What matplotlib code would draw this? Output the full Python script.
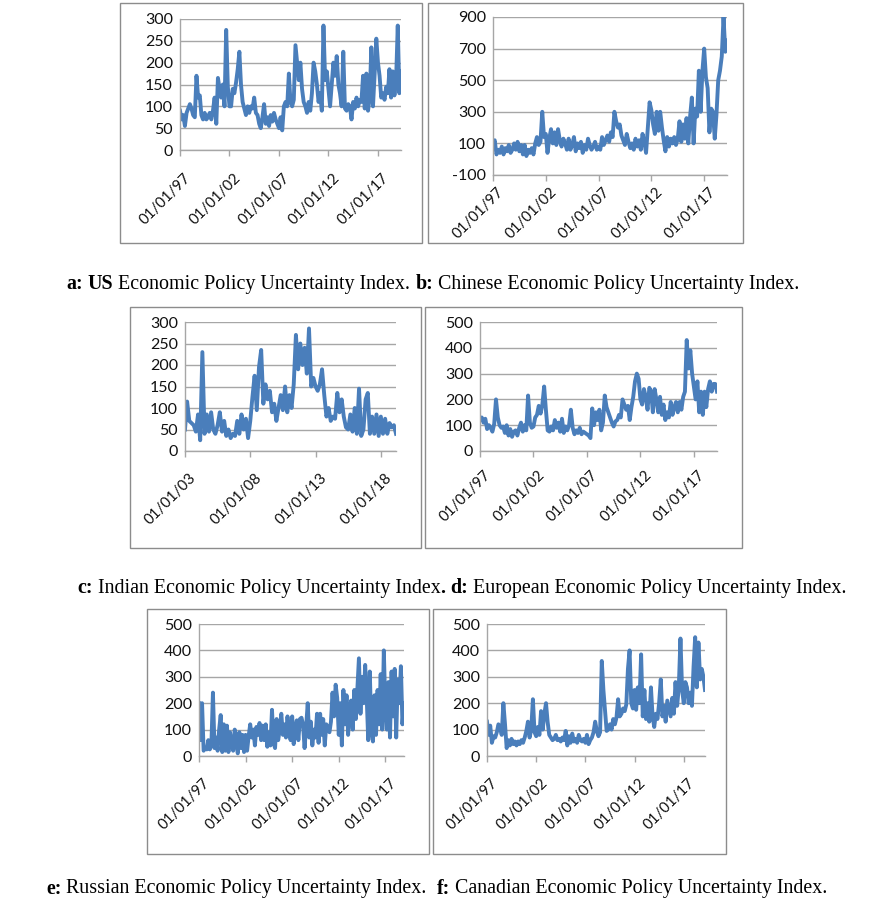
import pandas as pd
import matplotlib
matplotlib.use("Agg")
import matplotlib.pyplot as plt
import matplotlib.dates as mdates
from matplotlib.patches import Rectangle
from matplotlib.transforms import ScaledTranslation

plt.rcParams["axes.unicode_minus"] = False

# -----------------------------
# DATA (bimonthly readings, 6 per year)
# -----------------------------
us_vals = [
    90, 70, 80, 55, 85, 95,        # 1997
    105, 95, 80, 75, 170, 120,     # 1998
    125, 80, 70, 85, 70, 75,       # 1999
    85, 70, 90, 120, 60, 165,      # 2000
    140, 120, 150, 100, 275, 145,  # 2001
    100, 100, 140, 130, 155, 185,  # 2002
    225, 150, 110, 95, 80, 100,    # 2003
    85, 100, 95, 120, 85, 80,      # 2004
    60, 50, 75, 105, 60, 75,       # 2005
    55, 80, 65, 85, 70, 60,        # 2006
    50, 75, 45, 100, 110, 100,     # 2007
    175, 110, 100, 115, 240, 200,  # 2008
    160, 200, 140, 110, 100, 85,   # 2009
    110, 90, 130, 200, 180, 150,   # 2010
    110, 130, 90, 285, 160, 180,   # 2011
    140, 100, 150, 200, 170, 215,  # 2012
    150, 130, 100, 225, 95, 90,    # 2013
    105, 100, 70, 110, 95, 120,    # 2014
    100, 115, 110, 170, 95, 175,   # 2015
    90, 120, 235, 100, 175, 255,   # 2016
    200, 170, 120, 130, 115, 145,  # 2017
    130, 185, 120, 180, 125, 160,  # 2018
    285, 130, 180,                 # 2019
]

cn_vals = [
    100, 120, 30, 60, 40, 80,      # 1997
    30, 70, 50, 90, 40, 60,        # 1998
    100, 60, 110, 50, 90, 30,      # 1999
    90, 20, 60, 40, 70, 30,        # 2000
    100, 140, 90, 110, 300, 140,   # 2001
    160, 40, 130, 190, 100, 170,   # 2002
    90, 190, 120, 80, 130, 100,    # 2003
    60, 130, 60, 90, 140, 50,      # 2004
    100, 70, 110, 40, 90, 60,      # 2005
    130, 90, 60, 80, 110, 60,      # 2006
    80, 60, 140, 90, 120, 150,     # 2007
    110, 170, 140, 300, 240, 200,  # 2008
    220, 150, 120, 90, 160, 110,   # 2009
    70, 100, 60, 130, 80, 120,     # 2010
    60, 160, 110, 40, 200, 360,    # 2011
    310, 220, 160, 300, 180, 300,  # 2012
    200, 120, 50, 140, 80, 130,    # 2013
    100, 140, 90, 130, 240, 110,   # 2014
    220, 130, 260, 100, 270, 390,  # 2015
    100, 320, 270, 560, 300, 560,  # 2016
    700, 520, 450, 170, 320, 300,  # 2017
    130, 280, 500, 560, 650, 900,  # 2018
    680, 750,                      # 2019
]

in_vals = [
    50, 115, 70, 65, 60, 45,       # 2003
    85, 25, 230, 40, 85, 45,       # 2004
    90, 50, 40, 60, 90, 45,        # 2005
    70, 35, 50, 30, 40, 35,        # 2006
    70, 40, 85, 50, 75, 30,        # 2007
    70, 125, 175, 95, 195, 235,    # 2008
    110, 155, 120, 140, 90, 110,   # 2009
    70, 100, 130, 95, 150, 90,     # 2010
    130, 100, 155, 270, 190, 250,  # 2011
    200, 240, 180, 285, 150, 170,  # 2012
    150, 140, 155, 190, 130, 80,   # 2013
    100, 70, 80, 75, 135, 90,      # 2014
    120, 80, 55, 50, 85, 45,       # 2015
    100, 40, 145, 35, 50, 120,     # 2016
    135, 40, 80, 40, 85, 35,       # 2017
    80, 40, 75, 40, 65, 55,        # 2018
    60, 40,                        # 2019
]

eu_vals = [
    120, 130, 110, 125, 85, 100,   # 1997
    90, 75, 105, 200, 130, 100,    # 1998
    90, 95, 70, 100, 60, 85,       # 1999
    55, 75, 80, 60, 90, 110,       # 2000
    75, 100, 80, 215, 110, 90,     # 2001
    95, 130, 140, 175, 145, 180,   # 2002
    250, 160, 80, 75, 95, 80,      # 2003
    120, 90, 110, 75, 125, 70,     # 2004
    95, 80, 100, 160, 90, 65,      # 2005
    80, 70, 90, 65, 75, 70,        # 2006
    65, 60, 50, 165, 100, 150,     # 2007
    120, 160, 80, 110, 215, 170,   # 2008
    150, 130, 110, 95, 115, 120,   # 2009
    140, 130, 200, 180, 160, 175,  # 2010
    120, 170, 210, 270, 300, 280,  # 2011
    200, 180, 240, 210, 160, 245,  # 2012
    230, 150, 240, 200, 150, 210,  # 2013
    140, 180, 120, 150, 130, 190,  # 2014
    140, 170, 190, 150, 190, 160,  # 2015
    210, 230, 430, 320, 390, 300,  # 2016
    250, 200, 270, 150, 230, 140,  # 2017
    230, 170, 240, 270, 230, 260,  # 2018
    260, 230,                      # 2019
]

ru_vals = [
    200, 60, 200, 20, 30, 25,      # 1997
    60, 25, 40, 240, 30, 70,       # 1998
    20, 100, 155, 15, 120, 20,     # 1999
    115, 15, 90, 50, 20, 100,      # 2000
    50, 10, 90, 30, 80, 15,        # 2001
    80, 20, 75, 120, 70, 100,      # 2002
    40, 110, 80, 125, 60, 115,     # 2003
    60, 120, 35, 90, 40, 175,      # 2004
    50, 30, 140, 60, 100, 160,     # 2005
    80, 120, 70, 150, 90, 60,      # 2006
    150, 45, 100, 135, 60, 140,    # 2007
    145, 120, 30, 110, 200, 70,    # 2008
    130, 40, 100, 70, 160, 50,     # 2009
    160, 80, 140, 40, 120, 100,    # 2010
    90, 130, 240, 150, 270, 220,   # 2011
    80, 200, 40, 250, 120, 230,    # 2012
    80, 180, 210, 100, 250, 140,   # 2013
    260, 370, 160, 300, 200, 345,  # 2014
    220, 60, 320, 100, 55, 230,    # 2015
    80, 250, 120, 310, 100, 400,   # 2016
    180, 100, 280, 70, 320, 150,   # 2017
    330, 70, 290, 200, 340, 120,   # 2018
    200,                           # 2019
]

ca_vals = [
    130, 80, 115, 50, 75, 70,      # 1997
    90, 120, 110, 80, 200, 120,    # 1998
    30, 60, 40, 65, 45, 55,        # 1999
    40, 55, 45, 60, 50, 70,        # 2000
    95, 130, 70, 100, 215, 90,     # 2001
    75, 110, 80, 170, 100, 160,    # 2002
    200, 130, 80, 70, 60, 65,      # 2003
    80, 60, 65, 55, 70, 60,        # 2004
    95, 40, 75, 50, 85, 55,        # 2005
    65, 50, 80, 60, 55, 65,        # 2006
    50, 80, 45, 60, 70, 90,        # 2007
    130, 95, 75, 90, 360, 250,     # 2008
    170, 95, 100, 120, 100, 140,   # 2009
    120, 145, 215, 150, 160, 180,  # 2010
    170, 195, 330, 400, 200, 180,  # 2011
    250, 175, 260, 200, 385, 150,  # 2012
    250, 140, 200, 130, 260, 150,  # 2013
    110, 160, 140, 200, 290, 150,  # 2014
    190, 130, 210, 180, 150, 220,  # 2015
    160, 280, 190, 260, 445, 250,  # 2016
    200, 280, 260, 200, 240, 190,  # 2017
    340, 450, 260, 430, 290, 330,  # 2018
    300, 250,                      # 2019
]

# -----------------------------
# LAYOUT (pixels in a 886x907 image)
# -----------------------------
W, H = 886, 907
BLUE = "#4a7ebb"
GRID = "#a6a6a6"

# name, values, start, yticks, plot area (x0, y0, x1, y1), panel box (x0, y0, x1, y1), x label pad
panels = [
    ("a", us_vals, "1997-01-01", [0, 50, 100, 150, 200, 250, 300], (180, 19, 401, 150), (120, 3, 422, 243), 11),
    ("b", cn_vals, "1997-01-01", [-100, 100, 300, 500, 700, 900], (493, 17, 727, 175), (428, 3, 743, 243), 3),
    ("c", in_vals, "2003-01-01", [0, 50, 100, 150, 200, 250, 300], (185, 322, 396, 451), (130, 307, 421, 548), 10),
    ("d", eu_vals, "1997-01-01", [0, 100, 200, 300, 400, 500], (480, 322, 717, 451), (425, 307, 742, 548), 8),
    ("e", ru_vals, "1997-01-01", [0, 100, 200, 300, 400, 500], (199, 624, 404, 756), (147, 609, 429, 854), 10),
    ("f", ca_vals, "1997-01-01", [0, 100, 200, 300, 400, 500], (487, 624, 705, 756), (433, 609, 726, 854), 10),
]

fig = plt.figure(figsize=(W / 100, H / 100), dpi=100)
fig.patch.set_facecolor("white")

for name, vals, start, yticks, area, box, xpad in panels:
    # gray frame round each small chart
    bx0, by0, bx1, by1 = box
    fig.add_artist(Rectangle((bx0 / W, 1 - by1 / H), (bx1 - bx0) / W, (by1 - by0) / H,
                             transform=fig.transFigure, fill=False,
                             edgecolor="#8c8c8c", linewidth=1.0))

    x0, y0, x1, y1 = area
    ax = fig.add_axes([x0 / W, 1 - y1 / H, (x1 - x0) / W, (y1 - y0) / H])
    dates = pd.date_range(start, periods=len(vals), freq="2MS")
    ax.plot(dates, vals, color=BLUE, linewidth=2.8, solid_joinstyle="round")

    ax.set_xlim(dates[0], dates[-1])
    ax.set_ylim(yticks[0], yticks[-1])
    ax.set_yticks(yticks)
    ax.yaxis.grid(True, color=GRID, linewidth=1.0)
    ax.set_axisbelow(True)

    first = pd.Timestamp(start).year
    ax.set_xticks([pd.Timestamp(f"{y}-01-01") for y in range(first, 2020, 5)])
    ax.xaxis.set_major_formatter(mdates.DateFormatter("%d/%m/%y"))

    for s in ["top", "right"]:
        ax.spines[s].set_visible(False)
    for s in ["left", "bottom"]:
        ax.spines[s].set_color(GRID)
        ax.spines[s].set_linewidth(1.0)

    ax.tick_params(axis="y", length=0, pad=5, labelsize=11.5, labelcolor="#111111")
    ax.tick_params(axis="x", length=4, width=1.0, color=GRID, direction="out",
                   pad=xpad, labelsize=10.8, labelcolor="#111111")
    for lab in ax.get_yticklabels() + ax.get_xticklabels():
        lab.set_fontfamily("Lato")
    shift = ScaledTranslation(4 / 100, 0, fig.dpi_scale_trans)
    for lab in ax.get_xticklabels():
        lab.set_rotation(45)
        lab.set_ha("right")
        lab.set_va("top")
        lab.set_rotation_mode("anchor")
        lab.set_transform(lab.get_transform() + shift)

# -----------------------------
# CAPTIONS (bold letters)
# -----------------------------
CAP_SIZE = 14.4
renderer = fig.canvas.get_renderer()


def text_width(s, bold):
    t = fig.text(0, 0, s, fontsize=CAP_SIZE, family="Liberation Serif",
                 fontweight="bold" if bold else "normal")
    w = t.get_window_extent(renderer).width
    t.remove()
    return w


SPACE = text_width("x x", False) - text_width("xx", False)


def caption_row(pieces, x_px, y_px):
    x = x_px
    for s, bold in pieces:
        core = s.strip(" ")
        if not core:
            x += len(s) * SPACE
            continue
        lead = len(s) - len(s.lstrip(" "))
        trail = len(s) - len(s.rstrip(" "))
        x += lead * SPACE
        fig.text(x / W, 1 - y_px / H, core, fontsize=CAP_SIZE, family="Liberation Serif",
                 fontweight="bold" if bold else "normal", va="center", ha="left")
        x += text_width(core, bold) + trail * SPACE


caption_row([("a:", True), (" ", False), ("US", True),
             (" Economic Policy Uncertainty Index. ", False), ("b:", True),
             (" Chinese Economic Policy Uncertainty Index.", False)], 66, 284)
caption_row([("c:", True), (" Indian Economic Policy Uncertainty Index", False),
             (".", True), (" ", False), ("d:", True),
             (" European Economic Policy Uncertainty Index.", False)], 77, 588)
caption_row([("e:", True), (" Russian Economic Policy Uncertainty Index.  ", False),
             ("f:", True), (" Canadian Economic Policy Uncertainty Index.", False)], 46, 889)

fig.savefig("out.png", dpi=100)
